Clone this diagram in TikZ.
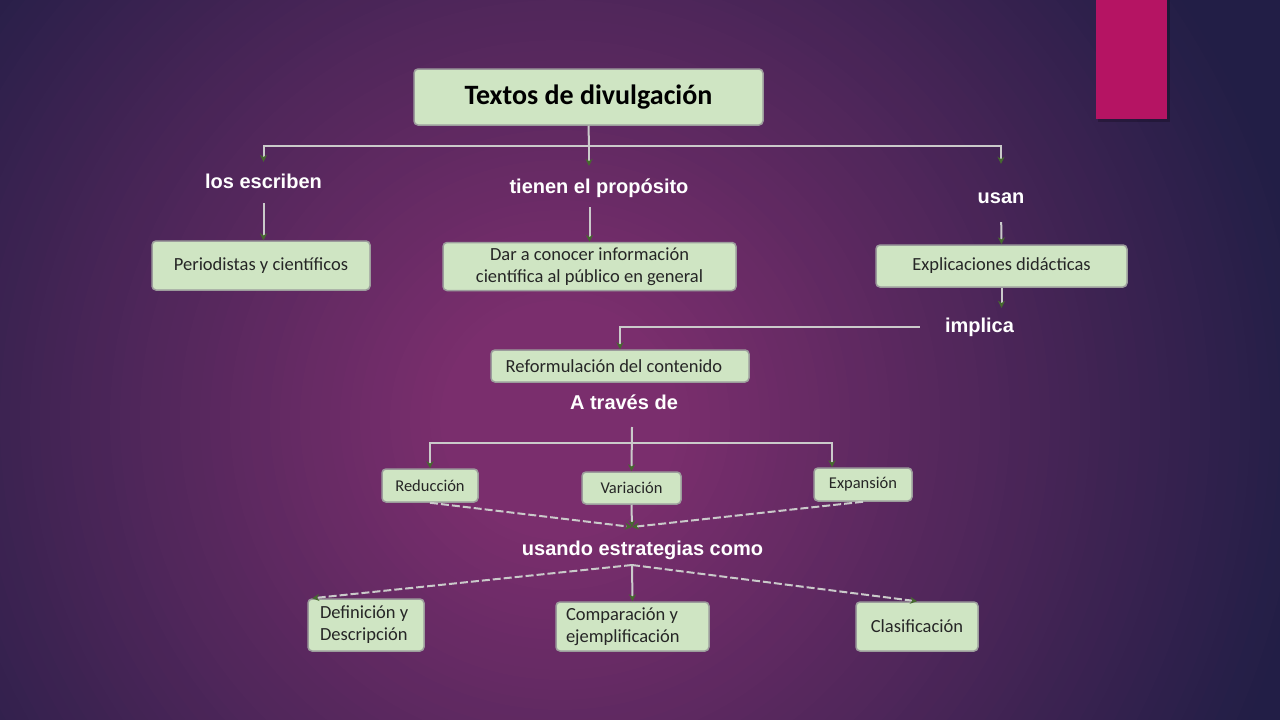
\documentclass[tikz,border=0pt]{standalone}
\usepackage{fontspec}
\setmainfont{Carlito}
\newfontfamily\lblfont{Liberation Sans}
\usetikzlibrary{arrows.meta}
\definecolor{boxfill}{HTML}{CFE5C3}
\definecolor{boxdraw}{HTML}{9C9C9C}
\definecolor{linec}{HTML}{CACACA}
\definecolor{tipc}{HTML}{46692F}
\definecolor{pinkc}{HTML}{B51463}
\definecolor{bgc}{HTML}{7A2E6D}
\definecolor{bge}{HTML}{221E46}
\begin{document}
\begin{tikzpicture}[x=1pt,y=-1pt,
  box/.style={draw=boxdraw, line width=1.5pt, fill=boxfill, rounded corners=4pt,
    inner sep=0pt, text=black!85, font=\fontsize{18.5}{22}\selectfont, align=center},
  smallbox/.style={box, font=\fontsize{16.5}{20}\selectfont},
  lbl/.style={inner sep=0pt, text=white, anchor=base, text height=15pt, text depth=4pt,
    font=\lblfont\bfseries\fontsize{20}{24}\selectfont},
  ln/.style={draw=linec, line width=2pt},
  arr/.style={ln, -{Stealth[length=7pt,width=7pt,color=tipc,fill=tipc]}},
  dsh/.style={arr, dash pattern=on 8pt off 3pt}]
\useasboundingbox (0,0) rectangle (1280,720);
\begin{scope}
\clip (0,0) rectangle (1280,720);
\fill[bge] (0,0) rectangle (1280,720);
\foreach \i in {0,...,65}{
  \pgfmathsetmacro{\rad}{760-10*\i}
  \pgfmathtruncatemacro{\pc}{min(100,max(0,(760-\rad)/6.4))}
  \fill[bgc!\pc!bge] (560,420) circle[radius=\rad pt];
}
\end{scope}
% pink tab
\fill[black,opacity=0.22] (1098,0) rectangle (1170,122);
\fill[pinkc] (1096,0) rectangle (1167,119);

% boxes
\node[box, minimum width=349pt, minimum height=56pt, font=\bfseries\fontsize{28}{32}\selectfont, text=black] (title) at (588.5,97) {\raisebox{-2pt}{Textos de divulgación}};
\node[box, minimum width=218pt, minimum height=49pt] (perio) at (261,265.5) {Periodistas y científicos};
\node[box, minimum width=293pt, minimum height=48pt] (dar) at (589.5,266.5) {Dar a conocer información\\científica al público en general};
\node[box, minimum width=251pt, minimum height=42pt] (expl) at (1001.5,266) {Explicaciones didácticas};
\node[box, minimum width=258pt, minimum height=32pt] (reform) at (620,366) {\hspace*{-12pt}Reformulación del contenido};
\node[smallbox, minimum width=96pt, minimum height=33pt] (red) at (430,485.5) {Reducción};
\node[smallbox, minimum width=99pt, minimum height=32pt] (var) at (631.5,488) {Variación};
\node[smallbox, minimum width=98pt, minimum height=33pt] (exp) at (863,484.5) {Expansión};
\node[box, minimum width=116pt, minimum height=52pt, text width=92pt, align=flush left] (defi) at (366,625) {Definición y\\Descripción};
\node[box, minimum width=153pt, minimum height=49pt, text width=133pt, align=flush left] (comp) at (632.5,626.5) {Comparación y\\ejemplificación};
\node[box, minimum width=122pt, minimum height=49pt] (clas) at (917,626.5) {Clasificación};

% labels
\node[lbl] (lesc) at (263.5,188) {los escriben};
\node[lbl] (prop) at (599,193) {tienen el propósito};
\node[lbl] (usan) at (1001,203) {usan};
\node[lbl] (impl) at (979.5,332) {implica};
\node[lbl] (trav) at (624,409) {A través de};
\node[lbl] (usando) at (642.5,555) {usando estrategias como};

% junction coordinates
\coordinate (hub) at (589,146);
\coordinate (tr) at (632,427);
\coordinate (hb) at (632,443);
\coordinate (m1) at (632,527);
\coordinate (m2) at (632,565);

% connectors
\draw[ln] (title.south) -- (hub);
\draw[arr, shorten >=11pt] (hub) -| (lesc.north);
\draw[arr, shorten >=12pt] (hub) -- (hub |- prop.north);
\draw[arr, shorten >=24pt] (hub) -| (usan.north);
\draw[arr, shorten <=11pt] (lesc.south) -- (lesc.south |- perio.north);
\draw[arr, shorten <=10pt] (prop.south -| dar.north) -- (dar.north);
\draw[arr, shorten <=15pt] (usan.south) -- (expl.north);
\draw[arr, shorten >=9pt] (expl.south) -- (expl.south |- impl.north);
\draw[arr, shorten <=25pt] (impl.west) -| (reform.north);
\draw[arr] (tr) -- (var.north);
\draw[arr] (hb) -| (red.north);
\draw[arr] (hb) -| ([xshift=-31pt]exp.north);
\draw[dsh] (red.south) -- (m1);
\draw[dsh] (exp.south) -- (m1);
\draw[arr] (var.south) -- (m1);
\draw[dsh] (m2) -- ([xshift=5pt]defi.north west);
\draw[dsh] (m2) -- (clas.north);
\draw[arr] (m2) -- (comp.north);
\end{tikzpicture}
\end{document}
